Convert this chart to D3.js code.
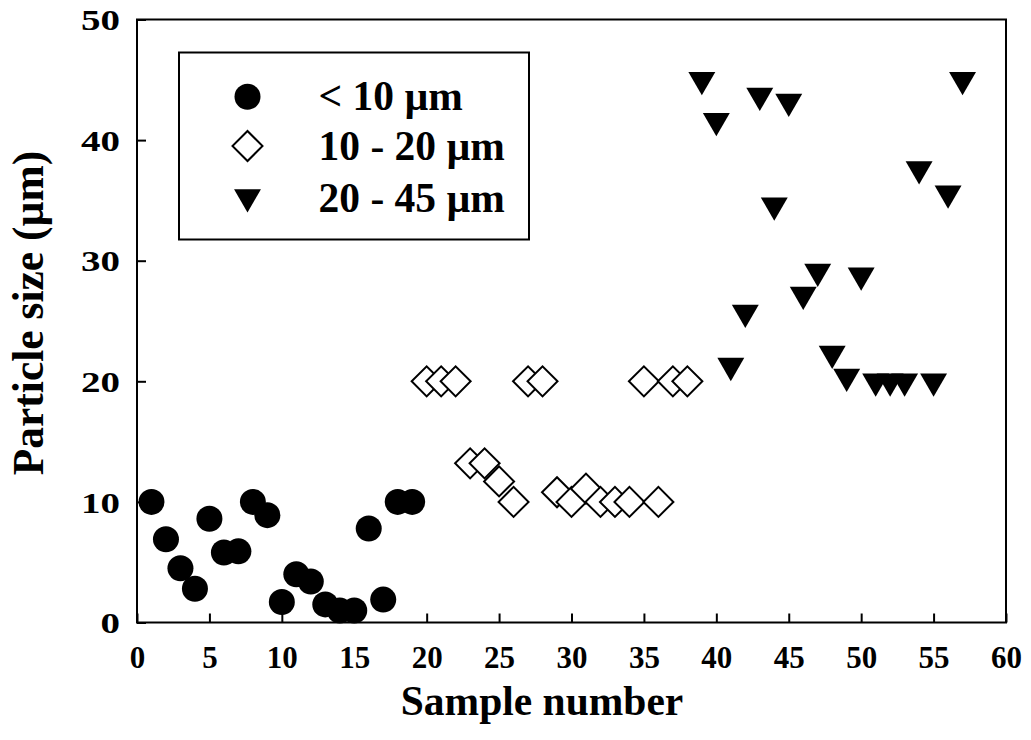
<!DOCTYPE html>
<html>
<head>
<meta charset="utf-8">
<script src="https://cdn.jsdelivr.net/npm/d3@7"></script>
<style>
  html, body { margin: 0; padding: 0; background: #fff; }
  svg text { font-family: "Liberation Serif", "Times New Roman", serif; font-weight: bold; fill: #000; }
</style>
</head>
<body>
<svg id="chart" width="1031" height="740"></svg>
<script>
// ---- data ----
const seriesNames = ["< 10 µm", "10 - 20 µm", "20 - 45 µm"];

const smallX = [1,2,3,4,5,6,7,8,9,10,11,12,13,14,15,16,17,18,19];
const smallY = [10,6.9,4.5,2.8,8.6,5.8,5.9,10,8.9,1.7,4.0,3.4,1.5,1.0,1.0,7.8,1.9,10,10];

const midX = [20,21,22,23,24,25,26,27,28,29,30,31,32,33,34,35,36,37,38];
const midY = [20,20,20,13.2,13.2,11.7,10,20,20,10.8,10,11.1,10,10,10,20,10,20,20];

const largeX = [39,40,41,42,43,44,45,46,47,48,49,50,51,52,53,54,55,56,57];
const largeY = [45,41.6,21.3,25.7,43.7,34.6,43.2,27.2,29.1,22.3,20.4,28.8,20,20,20,37.6,20,35.6,45];

const xTicks = [0,5,10,15,20,25,30,35,40,45,50,55,60];
const yTicks = [0,10,20,30,40,50];

// ---- layout ----
const W = 1031, H = 740;
const mLeft = 137, mRight = 1006, mTop = 19.5, mBottom = 622.5;

const svg = d3.select("#chart");
const x = d3.scaleLinear().domain([0, 60]).range([mLeft, mRight]);
const y = d3.scaleLinear().domain([0, 50]).range([mBottom, mTop]);

// axes with inward ticks
const xAxis = d3.axisBottom(x).tickValues(xTicks).tickSizeInner(-9).tickSizeOuter(0).tickPadding(0);
const yAxis = d3.axisLeft(y).tickValues(yTicks).tickSizeInner(-9).tickSizeOuter(0).tickPadding(0);

const gx = svg.append("g").attr("transform", `translate(0,${mBottom})`).call(xAxis);
gx.select(".domain").remove();
gx.selectAll(".tick line").attr("stroke", "#000").attr("stroke-width", 2);
gx.selectAll(".tick text")
  .attr("y", 45).attr("dy", null)
  .style("font-size", "31px");

const ySx = 1.3;
const gy = svg.append("g").attr("transform", `translate(${mLeft},0)`).call(yAxis);
gy.select(".domain").remove();
gy.selectAll(".tick line").attr("stroke", "#000").attr("stroke-width", 2);
gy.selectAll(".tick text")
  .attr("x", -17 / ySx).attr("dy", "0.34em")
  .attr("transform", `scale(${ySx},1)`)
  .style("font-size", "30px");

// frame
svg.append("rect")
  .attr("x", mLeft).attr("y", mTop)
  .attr("width", mRight - mLeft).attr("height", mBottom - mTop)
  .attr("fill", "none").attr("stroke", "#000").attr("stroke-width", 2);

// titles
svg.append("text")
  .attr("x", 542).attr("y", 715)
  .attr("text-anchor", "middle")
  .style("font-size", "41.5px")
  .text("Sample number");

svg.append("text")
  .attr("transform", "translate(43,313) rotate(-90)")
  .attr("text-anchor", "middle")
  .style("font-size", "43.5px")
  .text("Particle size (µm)");

// symbols
const circleSym = d3.symbol().type(d3.symbolCircle).size(531);
const squareSym = d3.symbol().type(d3.symbolSquare).size(450);
const triSym = d3.symbol().type(d3.symbolTriangle).size(314);

const plot = svg.append("g");

plot.selectAll("path.small")
  .data(smallX.map((v, i) => [v, smallY[i]]))
  .join("path").attr("class", "small")
  .attr("d", circleSym)
  .attr("transform", d => `translate(${x(d[0])},${y(d[1])})`)
  .attr("fill", "#000");

plot.selectAll("path.mid")
  .data(midX.map((v, i) => [v, midY[i]]))
  .join("path").attr("class", "mid")
  .attr("d", squareSym)
  .attr("transform", d => `translate(${x(d[0])},${y(d[1])}) rotate(45)`)
  .attr("fill", "#fff").attr("stroke", "#000").attr("stroke-width", 2);

plot.selectAll("path.large")
  .data(largeX.map((v, i) => [v, largeY[i]]))
  .join("path").attr("class", "large")
  .attr("d", triSym)
  .attr("transform", d => `translate(${x(d[0])},${y(d[1])}) rotate(180)`)
  .attr("fill", "#000");

// legend
const lg = svg.append("g");
lg.append("rect")
  .attr("x", 179).attr("y", 52.5).attr("width", 350).attr("height", 187)
  .attr("fill", "#fff").attr("stroke", "#000").attr("stroke-width", 2);

const legendRows = [
  { name: seriesNames[0], sym: circleSym, cy: 96.7, rot: 0, fill: "#000", stroke: "none", ty: 110 },
  { name: seriesNames[1], sym: squareSym, cy: 146, rot: 45, fill: "#fff", stroke: "#000", ty: 160 },
  { name: seriesNames[2], sym: triSym, cy: 197, rot: 180, fill: "#000", stroke: "none", ty: 212.3 }
];
legendRows.forEach(r => {
  lg.append("path")
    .attr("d", r.sym)
    .attr("transform", `translate(247.5,${r.cy}) rotate(${r.rot})`)
    .attr("fill", r.fill).attr("stroke", r.stroke).attr("stroke-width", 2);
  lg.append("text")
    .attr("x", 318.5).attr("y", r.ty)
    .style("font-size", "41.5px")
    .text(r.name);
});
</script>
</body>
</html>
